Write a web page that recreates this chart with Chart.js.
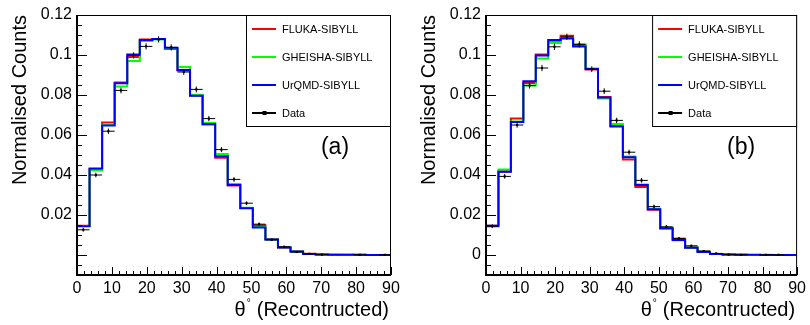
<!DOCTYPE html>
<html>
<head>
<meta charset="utf-8">
<script src="https://cdn.jsdelivr.net/npm/chart.js@4.4.1/dist/chart.umd.min.js"></script>
<style>
  body { margin: 0; background: #fff; }
  .panel { position: absolute; top: 0; width: 405px; height: 325px; }
</style>
</head>
<body>
<div class="panel" style="left:0"><canvas id="chartA" width="405" height="325"></canvas></div>
<div class="panel" style="left:405px"><canvas id="chartB" width="405" height="325"></canvas></div>
<script>
// theta binning: 25 bins over 0-90 deg
const thetaMin = 0, thetaMax = 90, nBins = 25;
const seriesNames = ['FLUKA-SIBYLL', 'GHEISHA-SIBYLL', 'UrQMD-SIBYLL', 'Data'];
const xTicks = [0, 10, 20, 30, 40, 50, 60, 70, 80, 90];
const yTicksA = [0.02, 0.04, 0.06, 0.08, 0.1, 0.12];
const yTicksB = [0, 0.02, 0.04, 0.06, 0.08, 0.1, 0.12];

// panel (a)
const flukaA   = [0.0146, 0.0430, 0.0663, 0.0862, 0.0990, 0.1078, 0.1080, 0.1030, 0.0923, 0.0798, 0.0652, 0.0486, 0.0348, 0.0235, 0.0149, 0.0079, 0.0037, 0.0017, 0.0006, 0.0002, 0.0001, 0.0001, 0, 0, 0];
const gheishaA = [0.0145, 0.0424, 0.0650, 0.0842, 0.0970, 0.1070, 0.1078, 0.1034, 0.0940, 0.0801, 0.0660, 0.0505, 0.0355, 0.0236, 0.0140, 0.0078, 0.0039, 0.0018, 0.0005, 0.0002, 0.0001, 0, 0.0001, 0, 0];
const urqmdA   = [0.0144, 0.0433, 0.0648, 0.0859, 0.1003, 0.1075, 0.1080, 0.1036, 0.0925, 0.0796, 0.0655, 0.0494, 0.0350, 0.0234, 0.0138, 0.0078, 0.0038, 0.0018, 0.0005, 0.0002, 0.0001, 0.0001, 0.0001, 0, 0];
const dataA    = [0.0126, 0.0400, 0.0619, 0.0823, 0.0998, 0.1043, 0.1078, 0.1038, 0.0915, 0.0828, 0.0682, 0.0527, 0.0378, 0.0259, 0.0154, 0.0076, 0.0041, 0.0015, 0.0006, 0.0002, null, null, 0.0001, null, 0.0001];
const errA     = [0.0007, 0.0009, 0.0011, 0.0012, 0.0013, 0.0013, 0.0013, 0.0013, 0.0012, 0.0012, 0.0011, 0.0010, 0.0009, 0.0007, 0.0006, 0.0004, 0.0003, 0.0002, 0.0001, 0.0001, 0, 0, 0.0001, 0, 0.0001];

// panel (b)
const flukaB   = [0.0146, 0.0418, 0.0682, 0.0860, 0.1003, 0.1064, 0.1096, 0.1045, 0.0928, 0.0790, 0.0645, 0.0478, 0.0340, 0.0226, 0.0132, 0.0081, 0.0037, 0.0016, 0.0005, 0.0002, 0.0001, 0, 0, 0, 0];
const gheishaB = [0.0143, 0.0428, 0.0668, 0.0847, 0.0983, 0.1060, 0.1085, 0.1054, 0.0932, 0.0783, 0.0655, 0.0492, 0.0352, 0.0231, 0.0136, 0.0074, 0.0037, 0.0016, 0.0005, 0.0002, 0.0001, 0, 0.0001, 0, 0];
const urqmdB   = [0.0146, 0.0416, 0.0665, 0.0869, 0.0997, 0.1075, 0.1083, 0.1043, 0.0930, 0.0788, 0.0643, 0.0489, 0.0350, 0.0229, 0.0134, 0.0075, 0.0036, 0.0015, 0.0005, 0.0002, 0.0001, 0.0001, 0, 0, 0];
const dataB    = [0.0144, 0.0393, 0.0650, 0.0847, 0.0935, 0.1041, 0.1091, 0.1053, 0.0929, 0.0819, 0.0673, 0.0514, 0.0373, 0.0242, 0.0141, 0.0083, 0.0046, 0.0020, 0.0008, 0.0002, 0.0001, null, 0.0001, 0.0001, null];
const errB     = [0.0007, 0.0009, 0.0011, 0.0012, 0.0013, 0.0013, 0.0013, 0.0013, 0.0012, 0.0012, 0.0011, 0.0010, 0.0009, 0.0007, 0.0006, 0.0004, 0.0003, 0.0002, 0.0001, 0.0001, 0.0001, 0, 0.0001, 0.0001, 0];

const binW = (thetaMax - thetaMin) / nBins;
const FONT = '"Liberation Sans", Arial, Helvetica, sans-serif';

// step outline: one point per lower edge, last bin closed at thetaMax
function histPoints(vals) {
  const pts = vals.map((v, i) => ({ x: thetaMin + i * binW, y: v }));
  pts.push({ x: thetaMax, y: vals[vals.length - 1] });
  return pts;
}

function dataPoints(vals) {
  const pts = [];
  vals.forEach((v, i) => { if (v !== null) pts.push({ x: thetaMin + (i + 0.5) * binW, y: v }); });
  return pts;
}

function line(ctx, x0, y0, x1, y1) {
  ctx.beginPath(); ctx.moveTo(x0, y0); ctx.lineTo(x1, y1); ctx.stroke();
}

// ROOT-style frame, inward ticks, error bars, legend and titles
const rootStyle = {
  id: 'rootStyle',
  afterDatasetsDraw(chart, args, opts) {
    const ctx = chart.ctx;
    const xs = chart.scales.x, ys = chart.scales.y;
    ctx.save();
    ctx.strokeStyle = '#000';
    ctx.lineWidth = 1;
    opts.values.forEach((v, i) => {
      if (v === null) return;
      const c = thetaMin + (i + 0.5) * binW;
      const py = ys.getPixelForValue(v);
      line(ctx, xs.getPixelForValue(c - binW / 2), py, xs.getPixelForValue(c + binW / 2), py);
      const e = opts.errors[i];
      const px = xs.getPixelForValue(c);
      line(ctx, px, ys.getPixelForValue(v + e) - 0.5, px, ys.getPixelForValue(v - e) + 0.5);
    });
    ctx.restore();
  },
  afterDraw(chart, args, opts) {
    const ctx = chart.ctx;
    const { left, right, top, bottom } = chart.chartArea;
    const xs = chart.scales.x, ys = chart.scales.y;
    ctx.save();
    ctx.strokeStyle = '#000';

    // frame
    ctx.lineWidth = 1;
    line(ctx, left, top + 0.5, right, top + 0.5);
    line(ctx, right - 0.5, top, right - 0.5, bottom);
    ctx.lineWidth = 2;
    line(ctx, left, bottom, right, bottom);
    line(ctx, left, top, left, bottom + 1);

    // x ticks, minor every 2 deg
    ctx.lineWidth = 1;
    for (let v = thetaMin; v <= thetaMax; v += 2) {
      const px = Math.round(xs.getPixelForValue(v)) + 0.5;
      line(ctx, px, bottom, px, bottom - (v % 10 === 0 ? 8 : 4));
    }
    // y ticks, minor every 0.005
    for (let k = -2; k <= 24; k++) {
      const py = Math.round(ys.getPixelForValue(k * 0.005)) + 0.5;
      line(ctx, left, py, left + (k % 4 === 0 ? 10 : 5), py);
    }

    // legend box
    const lw = 145, lh = 112;
    const lx = right - lw, ly = top;
    ctx.fillStyle = '#fff';
    ctx.fillRect(lx, ly, lw, lh);
    ctx.strokeStyle = '#000';
    ctx.lineWidth = 1;
    ctx.strokeRect(lx + 0.5, ly + 0.5, lw - 1, lh - 1);
    ctx.font = '11px ' + FONT;
    ctx.textBaseline = 'middle';
    ctx.textAlign = 'left';
    const rows = [14, 42, 70, 98];
    const colours = ['#ff0000', '#00ff00', '#0000ff', '#000000'];
    seriesNames.forEach((name, i) => {
      const ry = Math.round(ly + rows[i]);
      ctx.strokeStyle = colours[i];
      ctx.lineWidth = 2;
      line(ctx, lx + 6, ry, lx + 30, ry);
      if (name === 'Data') {
        ctx.fillStyle = '#000';
        ctx.fillRect(lx + 16.5, ry - 2, 4, 4);
      }
      ctx.fillStyle = '#000';
      ctx.fillText(name, lx + 36, ry + 1);
    });

    // panel tag
    ctx.font = '23px ' + FONT;
    ctx.textAlign = 'center';
    ctx.fillText(opts.tag, right - 56, 148);

    // y title, aligned to the top of the axis
    ctx.font = '20px ' + FONT;
    ctx.save();
    ctx.translate(left - 57, top);
    ctx.rotate(-Math.PI / 2);
    ctx.textAlign = 'right';
    ctx.textBaseline = 'middle';
    ctx.fillText('Normalised Counts', 0, 0);
    ctx.restore();

    // x title, aligned to the right end of the axis
    ctx.textBaseline = 'alphabetic';
    ctx.textAlign = 'right';
    const xt = '(Recontructed)';
    const tx = right - 2, ty = 316;
    ctx.fillText(xt, tx, ty);
    const start = tx - ctx.measureText(xt).width;
    ctx.fillText('\u03b8', start - 11, ty);
    ctx.font = '10px ' + FONT;
    ctx.textAlign = 'center';
    ctx.fillText('\u00b0', start - 8, ty - 10);
    ctx.restore();
  }
};

function makeChart(id, fluka, gheisha, urqmd, data, errors, yTicks, tag, axisLeft, padRight) {
  const histo = (name, vals, colour, order) => ({
    label: name,
    data: histPoints(vals),
    showLine: true,
    stepped: 'before',
    borderColor: colour,
    borderWidth: 2,
    pointRadius: 0,
    fill: false,
    order: order
  });
  return new Chart(document.getElementById(id), {
    type: 'scatter',
    data: {
      datasets: [
        {
          label: seriesNames[3],
          data: dataPoints(data),
          pointStyle: 'rect',
          pointRadius: 1.5,
          backgroundColor: '#000',
          borderColor: '#000',
          borderWidth: 0,
          order: 0
        },
        histo(seriesNames[2], urqmd, '#0000ff', 1),
        histo(seriesNames[1], gheisha, '#00ff00', 2),
        histo(seriesNames[0], fluka, '#ff0000', 3)
      ]
    },
    options: {
      responsive: false,
      animation: false,
      events: [],
      layout: { padding: { top: 15, right: padRight, left: 0, bottom: 0 } },
      scales: {
        x: {
          type: 'linear',
          min: thetaMin,
          max: thetaMax,
          afterBuildTicks: s => { s.ticks = xTicks.map(v => ({ value: v })); },
          afterFit: s => { s.height = 50; },
          grid: { display: false, drawTicks: false },
          border: { display: false },
          ticks: {
            color: '#000',
            font: { family: FONT, size: 16 },
            padding: 4,
            maxRotation: 0,
            autoSkip: false,
            callback: v => String(v)
          }
        },
        y: {
          type: 'linear',
          min: -0.01,
          max: 0.12,
          afterBuildTicks: s => { s.ticks = yTicks.map(v => ({ value: v })); },
          afterFit: s => { s.width = axisLeft; },
          grid: { display: false, drawTicks: false },
          border: { display: false },
          ticks: {
            color: '#000',
            font: { family: FONT, size: 16 },
            padding: 5,
            autoSkip: false,
            callback: v => String(v)
          }
        }
      },
      plugins: {
        legend: { display: false },
        tooltip: { enabled: false },
        rootStyle: { tag: tag, values: data, errors: errors }
      }
    },
    plugins: [rootStyle]
  });
}

makeChart('chartA', flukaA, gheishaA, urqmdA, dataA, errA, yTicksA, '(a)', 77, 14);
makeChart('chartB', flukaB, gheishaB, urqmdB, dataB, errB, yTicksB, '(b)', 81, 10);
</script>
</body>
</html>
